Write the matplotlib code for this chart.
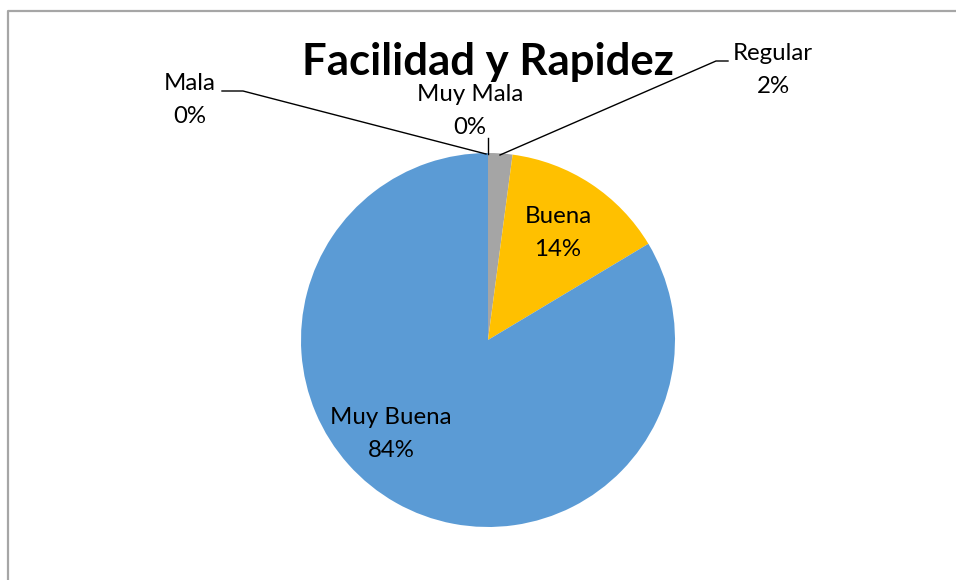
import matplotlib
matplotlib.use("Agg")
import matplotlib.pyplot as plt

# data (percent shares)
categories = ["Regular", "Buena", "Muy Buena", "Mala", "Muy Mala"]
values = [2.1, 14.3, 83.6, 0.0, 0.0]
colors = ["#A5A5A5", "#FFC000", "#5B9BD5", "#ED7D31", "#4472C4"]
title = "Facilidad y Rapidez"

plt.rcParams['font.family'] = ['Lato', 'DejaVu Sans']

W, H = 956, 580
fig = plt.figure(figsize=(W / 100, H / 100), dpi=100)
ax = fig.add_axes([0, 0, 1, 1])

# chart border (only top and left visible in the crop)
ax.plot([8, 8, W + 5], [-5, H - 11, H - 11], color='#A6A6A6', lw=1.6, solid_capstyle='butt')

cx, cy, r = 488, H - 340, 187
ax.pie(values, colors=colors, startangle=90, counterclock=False,
       center=(cx, cy), radius=r, frame=True,
       wedgeprops=dict(linewidth=0))
ax.set_xlim(0, W)
ax.set_ylim(0, H)
ax.set_aspect('equal')
ax.axis('off')

total = sum(values)
pct = {c: "%.0f%%" % (v / total * 100) for c, v in zip(categories, values)}

fs = 17.3
ls = 1.75
# inside labels
ax.text(558, H - 233, "Buena\n" + pct["Buena"], ha='center', va='center', fontsize=fs, linespacing=ls)
ax.text(391, H - 434, "Muy Buena\n" + pct["Muy Buena"], ha='center', va='center', fontsize=fs, linespacing=ls)

# outside labels with leader lines
ax.text(773, H - 70, "Regular\n" + pct["Regular"], ha='center', va='center', fontsize=fs, linespacing=ls)
ax.plot([500, 716, 728], [H - 155, H - 61, H - 61], color='black', lw=1)

ax.text(190, H - 100, "Mala\n" + pct["Mala"], ha='center', va='center', fontsize=fs, linespacing=ls)
ax.plot([222, 243, 486], [H - 91, H - 91, H - 154], color='black', lw=1)

ax.text(470, H - 111, "Muy Mala\n" + pct["Muy Mala"], ha='center', va='center', fontsize=fs, linespacing=ls)
ax.plot([488, 488], [H - 138, H - 154], color='black', lw=1)

ax.text(488, H - 62, title, ha='center', va='center', fontsize=31.5, fontweight='bold')

fig.savefig("out.png", dpi=100)
